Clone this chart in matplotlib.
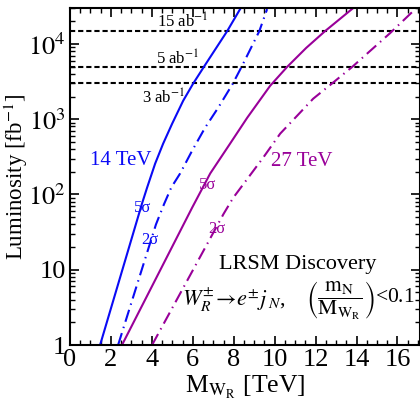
import matplotlib
matplotlib.use('Agg')
import matplotlib.pyplot as plt
from matplotlib.ticker import MultipleLocator, LogLocator, NullFormatter

plt.rcParams['font.family'] = ['Liberation Serif', 'DejaVu Serif']
plt.rcParams['mathtext.fontset'] = 'stix'

# discovery reach curves (M_WR in TeV, luminosity in fb^-1)
m14_5s = [1.47, 3.52, 3.77, 4.16, 4.55, 4.99, 5.53, 6.01, 6.55, 7.68, 8.31]
l14_5s = [1, 76, 124, 257, 473, 871, 1760, 2950, 5000, 14800, 29000]
m14_2s = [2.35, 4.20, 4.60, 4.95, 5.38, 5.97, 6.60, 7.24, 7.95, 8.39, 9.25, 9.63]
l14_2s = [1, 40, 75, 124, 190, 383, 771, 1420, 2950, 5000, 14800, 29000]
m27_5s = [2.54, 5.97, 6.85, 7.82, 8.66, 9.78, 10.61, 11.54, 12.47, 13.84]
l27_5s = [1, 67, 190, 473, 1047, 2780, 4955, 8850, 14860, 30000]
m27_2s = [4.01, 7.50, 7.97, 9.44, 10.27, 11.10, 11.88, 12.78, 13.79, 15.65, 16.77]
l27_2s = [1, 55, 90, 309, 643, 1113, 1870, 2950, 4955, 14000, 27350]

# integrated luminosity benchmarks
lumi = [3000, 5000, 15000]
lumi_txt = ['3 ab$^{-1}$', '5 ab$^{-1}$', '15 ab$^{-1}$']
lumi_tx = [4.55, 5.25, 5.5]
lumi_ty = [1920, 6300, 19500]

yticks = [1, 10, 100, 1000, 10000]
ylabels = ['1', '10', '$10^2$', '$10^3$', '$10^4$']

blue = '#0a0af5'
purple = '#990099'
dd = (6, 2.5, 0.7, 2.5)

fig = plt.figure(figsize=(4.2, 4.09), dpi=100)
ax = fig.add_axes([70 / 420, 1 - 345 / 409, 350 / 420, 337 / 409])

for y in lumi:
    ax.axhline(y, color='black', lw=1.5, ls=(0, (2.5, 1.4)), zorder=1)
for x, y, t in zip(lumi_tx, lumi_ty, lumi_txt):
    ax.text(x, y, t, fontsize=12, ha='center', va='center')

ax.plot(m14_5s, l14_5s, color=blue, lw=1.5)
ax.plot(m14_2s, l14_2s, color=blue, lw=1.5, dashes=dd)
ax.plot(m27_5s, l27_5s, color=purple, lw=1.5)
ax.plot(m27_2s, l27_2s, color=purple, lw=1.5, dashes=dd)

ax.text(2.49, 282, '14 TeV', color=blue, fontsize=15, ha='center', va='center')
ax.text(11.34, 274, '27 TeV', color=purple, fontsize=15, ha='center', va='center')
ax.text(3.57, 67, '5σ', color=blue, fontsize=12, ha='center', va='center')
ax.text(3.91, 24.6, '2σ', color=blue, fontsize=12, ha='center', va='center')
ax.text(6.7, 135, '5σ', color=purple, fontsize=12, ha='center', va='center')
ax.text(7.19, 34.5, '2σ', color=purple, fontsize=12, ha='center', va='center')

ax.text(11.1, 11.8, 'LRSM Discovery', fontsize=16, ha='center', va='center')
ax.text(5.48, 3.95, r'$W_R^{\pm}\!\rightarrow\! e^{\pm}j_{\;N}$,', fontsize=16,
        ha='left', va='center')
ax.text(11.55, 3.95, r'$\left(\dfrac{\mathrm{m_N}}{\mathrm{M_{W_R}}}\right)$<0.1',
        fontsize=15.5, ha='left', va='center')

ax.set_xlim(0, 17.1)
ax.set_yscale('log')
ax.set_ylim(1, 3e4)
ax.xaxis.set_major_locator(MultipleLocator(2))
ax.xaxis.set_minor_locator(MultipleLocator(0.5))
ax.set_yticks(yticks)
ax.set_yticklabels(ylabels)
ax.yaxis.set_minor_locator(LogLocator(base=10, subs=range(2, 10)))
ax.yaxis.set_minor_formatter(NullFormatter())

ax.tick_params(which='both', direction='in', top=True, right=True)
ax.tick_params(which='major', length=6.5, width=1.2, labelsize=19, pad=3)
ax.tick_params(which='minor', length=3.5, width=1)
for s in ax.spines.values():
    s.set_linewidth(1.5)

ax.set_xlabel(r'M$_{\mathrm{W_R}}$ [TeV]', fontsize=18.5, labelpad=2)
ax.set_ylabel('Luminosity [fb$^{-1}$]', fontsize=16.5)
ax.yaxis.set_label_coords(-0.115, 0.5)

fig.savefig('out.png', dpi=100)
